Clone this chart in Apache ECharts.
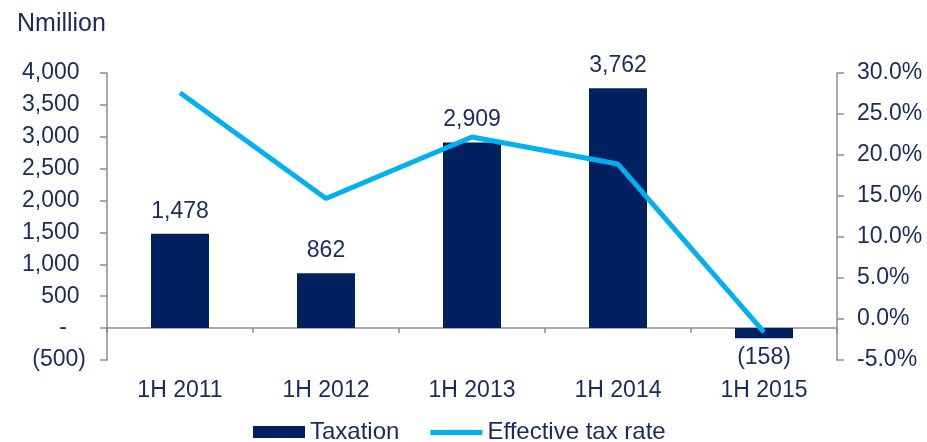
<!DOCTYPE html>
<html>
<head>
<meta charset="utf-8">
<script src="https://cdn.jsdelivr.net/npm/echarts@6/dist/echarts.min.js"></script>
<style>
  html, body { margin: 0; padding: 0; background: #fff; }
  #main { width: 927px; height: 442px; }
</style>
</head>
<body>
<div id="main"></div>
<script>
// categories and values
var periods = ['1H 2011', '1H 2012', '1H 2013', '1H 2014', '1H 2015'];
var taxation = [1478, 862, 2909, 3762, -158];
var taxRate = [27.6, 14.7, 22.2, 18.9, -1.6];

var textColor = '#1B2A5E';
var axisGrey = '#8C8C8C';
var fontName = 'Liberation Sans';

function fmtMoney(v) {
    if (v === 0) return '-   ';
    var s = Math.abs(v).toString().replace(/\B(?=(\d{3})+(?!\d))/g, ',');
    return v < 0 ? '(' + s + ')' : s + ' ';
}

// bar data with the label below the bar when negative
var barData = taxation.map(function (v) {
    return {
        value: v,
        label: { position: v < 0 ? 'bottom' : 'top', distance: v < 0 ? 8 : 11 }
    };
});

var chart = echarts.init(document.getElementById('main'));

var option = {
    backgroundColor: '#ffffff',
    animation: false,
    textStyle: { fontFamily: fontName, color: textColor },
    title: {
        text: 'Nmillion',
        left: 12,
        top: 7,
        textStyle: { fontFamily: fontName, fontSize: 25, fontWeight: 'normal', color: textColor }
    },
    legend: {
        data: [
            { name: 'Taxation', icon: 'rect' },
            // thick line icon, the extra moves keep the box 54x12
            { name: 'Effective tax rate', icon: 'path://M0,0 M0,4 L54,4 L54,9 L0,9 Z M54,12' }
        ],
        left: 248,
        top: 415,
        padding: [5, 5, 0, 5],
        itemWidth: 52,
        itemHeight: 12,
        itemGap: 31,
        textStyle: { fontFamily: fontName, fontSize: 24, color: textColor }
    },
    grid: {
        left: 107,
        right: 90,
        top: 73,
        bottom: 82
    },
    xAxis: [{
        type: 'category',
        data: periods,
        axisLine: { onZero: true, onZeroAxisIndex: 0, lineStyle: { color: axisGrey, width: 1.5 } },
        axisTick: { show: true, alignWithLabel: false, length: 5, lineStyle: { color: axisGrey, width: 1.5 } },
        axisLabel: { margin: 19, fontSize: 23, color: textColor, fontFamily: fontName },
        splitLine: { show: false }
    }],
    yAxis: [{
        type: 'value',
        min: -500,
        max: 4000,
        interval: 500,
        axisLine: { show: true, lineStyle: { color: axisGrey, width: 1.5 } },
        axisTick: { show: true, length: 7, lineStyle: { color: axisGrey, width: 1.5 } },
        axisLabel: { margin: 21, fontSize: 23, color: textColor, fontFamily: fontName, formatter: fmtMoney },
        splitLine: { show: false }
    }, {
        type: 'value',
        position: 'right',
        min: -5,
        max: 30,
        interval: 5,
        axisLine: { show: true, lineStyle: { color: axisGrey, width: 1.5 } },
        axisTick: { show: true, length: 7, lineStyle: { color: axisGrey, width: 1.5 } },
        axisLabel: {
            margin: 20, fontSize: 23, color: textColor, fontFamily: fontName,
            formatter: function (v) { return v.toFixed(1) + '%'; }
        },
        splitLine: { show: false }
    }],
    series: [{
        name: 'Taxation',
        type: 'bar',
        yAxisIndex: 0,
        barWidth: 58,
        itemStyle: { color: '#002060' },
        label: {
            show: true,
            fontSize: 23,
            color: textColor,
            fontFamily: fontName,
            formatter: function (p) { return fmtMoney(p.value).trim(); }
        },
        data: barData
    }, {
        name: 'Effective tax rate',
        type: 'line',
        yAxisIndex: 1,
        symbol: 'none',
        lineStyle: { color: '#00B0F0', width: 5 },
        itemStyle: { color: '#00B0F0' },
        z: 5,
        data: taxRate
    }]
};

chart.setOption(option);

window.addEventListener('resize', function () {
    chart.resize();
});
</script>
</body>
</html>
